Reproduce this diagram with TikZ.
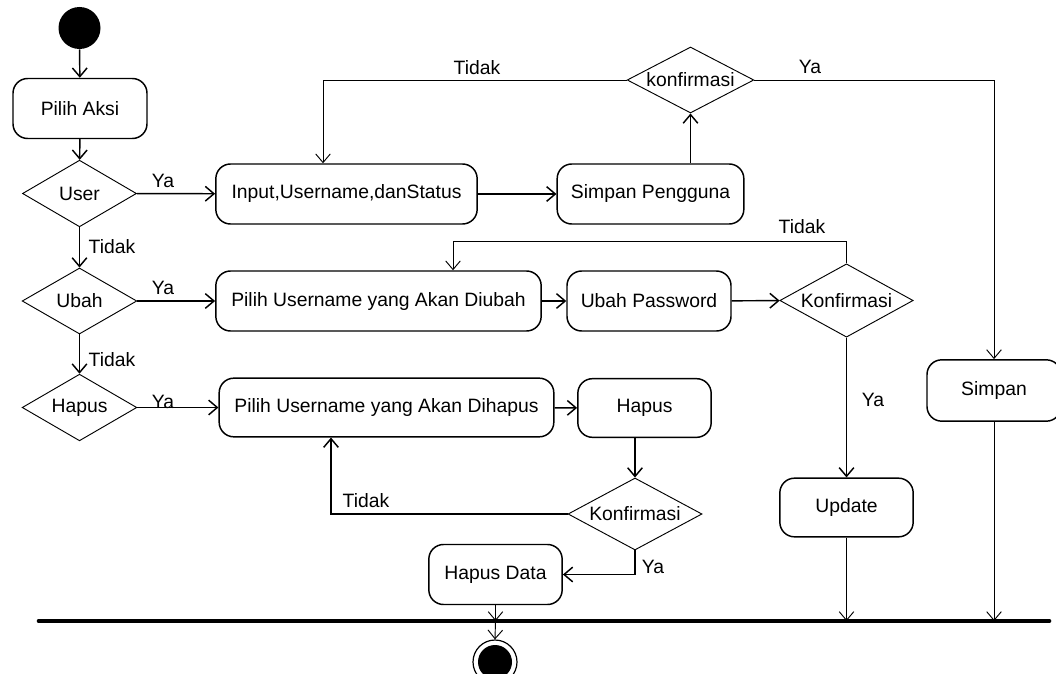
\documentclass[tikz,border=0pt]{standalone}
\usepackage{fontspec}
\setmainfont{Liberation Sans}
\usetikzlibrary{arrows.meta,shapes.geometric,positioning}

\begin{document}
\begin{tikzpicture}[x=0.75pt,y=-0.75pt,
      font=\fontsize{14.5}{17}\selectfont,
      act/.style={rectangle,rounded corners=11pt,draw,line width=1.1pt,inner sep=0pt,minimum height=45pt},
      choice/.style={diamond,aspect=2,draw,line width=0.7pt,inner sep=0pt},
      flow/.style={-{Straight Barb[length=6.5pt,width=11pt]},line width=1.1pt},
      thinflow/.style={-{Straight Barb[length=6.5pt,width=11pt]},line width=0.7pt},
      lbl/.style={inner sep=0pt}
      ]

	      \useasboundingbox (0,0) rectangle (1056,674);

	      % start / first choices
	      \node[circle,fill=black,minimum size=31.5pt,inner sep=0pt] (start) at (79.5,28) {};
	      \node[act,minimum width=100.5pt] (aksi) at (80,108.5) {Pilih Aksi};
	      \node[choice,minimum width=85.5pt,minimum height=50pt] (user) at (79.5,193.5) {User};
	      \node[choice,minimum width=86pt,minimum height=49.5pt] (ubah) at (79.5,301) {Ubah};
	      \node[choice,minimum width=86pt,minimum height=50pt] (hapusq) at (79.5,407.5) {Hapus};

	      % tambah pengguna
	      \node[act,minimum width=196pt] (input) at (346.5,194) {Input,Username,danStatus};
	      \node[act,minimum width=140pt] (simpanp) at (650.5,194) {Simpan Pengguna};
	      \node[choice,minimum width=95pt,minimum height=49.5pt] (konfa) at (690.5,80) {konfirmasi};
	      \node[act,minimum width=100.5pt,minimum height=46pt] (simpan) at (994,390.5) {Simpan};

	      % ubah password
	      \node[act,minimum width=244pt] (diubah) at (378.5,301) {Pilih Username yang Akan Diubah};
	      \node[act,minimum width=123pt] (password) at (649,301) {Ubah Password};
	      \node[choice,minimum width=100pt,minimum height=55pt] (konfb) at (846.5,300.5) {Konfirmasi};
	      \node[act,minimum width=100pt,minimum height=44pt] (update) at (846.5,507.5) {Update};

	      % hapus pengguna
	      \node[act,minimum width=251pt,minimum height=44pt] (dihapus) at (386.5,407.5) {Pilih Username yang Akan Dihapus};
	      \node[act,minimum width=100pt,minimum height=44pt] (hapus) at (644.5,408) {Hapus};
	      \node[choice,minimum width=100.5pt,minimum height=54pt] (konfc) at (635,514) {Konfirmasi};
	      \node[act,minimum width=100pt] (hapusdata) at (495.5,574.5) {Hapus Data};

	      % bar and end
	      \coordinate (barL) at (39,621);
	      \coordinate (barR) at (1049,621);
	      \draw[line width=3.5pt,line cap=round] (barL) -- (barR);
	      \node[circle,draw,line width=0.9pt,minimum size=33pt,inner sep=0pt] (finish) at (495,662) {};
	      \fill (finish.center) circle (17);

	      \coordinate (turnA) at (323,80);
	      \coordinate (turnB) at (453,241);
	      \coordinate (turnC) at (331,514);

	      \draw[flow] (start) -- (aksi);
	      \draw[flow] (aksi) -- (user);
	      \draw[flow] (user) -- (input);
	      \draw[flow] (user) -- (ubah);
	      \draw[flow] (ubah) -- (diubah);
	      \draw[flow] (ubah) -- (hapusq);
	      \draw[flow] (hapusq) -- (dihapus);

	      \draw[flow] (input) -- (simpanp);
	      \draw[flow] (simpanp.north -| konfa) -- (konfa.south);
	      \draw[thinflow] (konfa.west) -- (turnA) -- (turnA |- input.north);
	      \draw[thinflow] (konfa.east) -| (simpan.north);
	      \draw[thinflow] (simpan.south) -- (simpan.south |- barL);

	      \draw[flow] (diubah) -- (password);
	      \draw[flow] (password) -- (konfb);
	      \draw[thinflow] (konfb.north) |- (turnB) -- (turnB |- diubah.north);
	      \draw[flow] (konfb.south) -- (update.north);
	      \draw[thinflow] (update.south) -- (update.south |- barL);

	      \draw[flow] (dihapus) -- (hapus);
	      \draw[flow] (hapus.south -| konfc) -- (konfc.north);
	      \draw[flow] (konfc.west) -- (turnC) -- (turnC |- dihapus.south);
	      \draw[flow] (konfc.south) |- (hapusdata.east);
	      \draw[thinflow] (hapusdata.south) -- (hapusdata.south |- barL);
	      \draw[thinflow] (hapusdata.south |- barL) -- (finish.north);

	      % labels
	      \node[lbl] (yaUser) at (163,181) {Ya};
	      \node[lbl] (tidakUser) at (112,247) {Tidak};
	      \node[lbl] (yaUbah) at (163,288) {Ya};
	      \node[lbl] (tidakUbah) at (112,360) {Tidak};
	      \node[lbl] (yaHapus) at (163,402) {Ya};
	      \node[lbl] (tidakA) at (477,68) {Tidak};
	      \node[lbl] (yaA) at (810,67) {Ya};
	      \node[lbl] (tidakB) at (802,227) {Tidak};
	      \node[lbl] (yaB) at (873,400) {Ya};
	      \node[lbl] (tidakC) at (366,501) {Tidak};
	      \node[lbl] (yaC) at (653,567) {Ya};

\end{tikzpicture}
\end{document}
